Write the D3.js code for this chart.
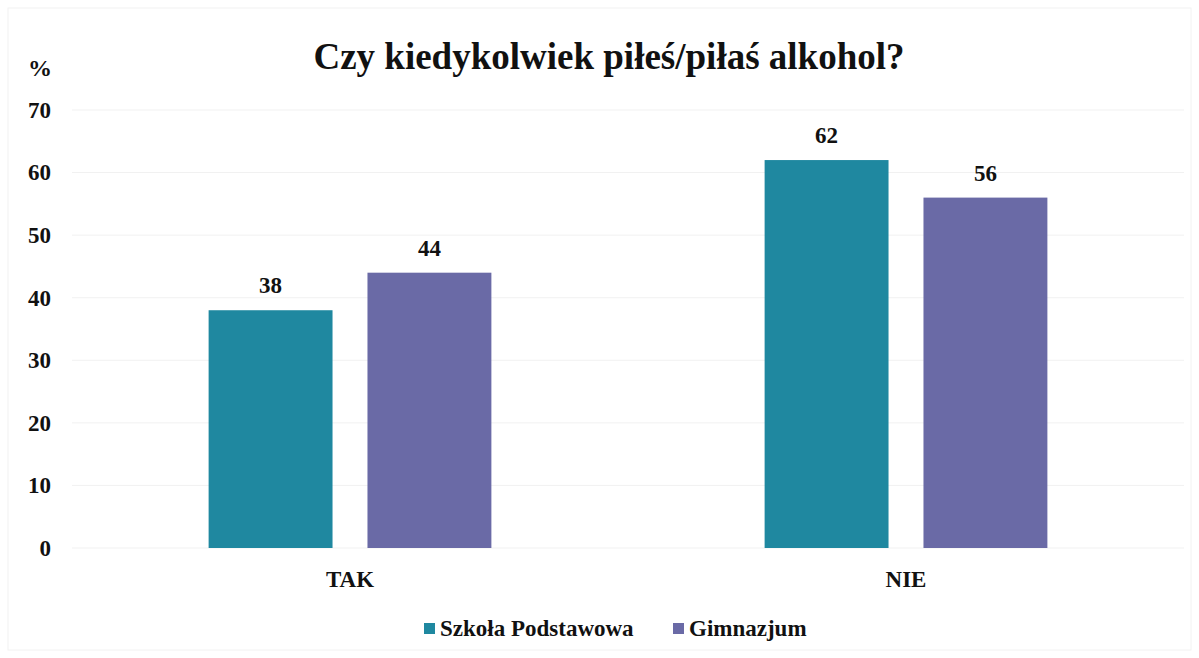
<!DOCTYPE html>
<html>
<head>
<meta charset="utf-8">
<script src="https://cdn.jsdelivr.net/npm/d3@7"></script>
<style>
body { margin: 0; background: #fff; }
svg text { font-family: "Liberation Serif", "Times New Roman", serif; font-weight: bold; fill: #111; }
</style>
</head>
<body>
<svg id="chart"></svg>
<script>
// data
var categories = ["TAK", "NIE"];
var seriesNames = ["Szkoła Podstawowa", "Gimnazjum"];
var szkolaValues = [38, 62];
var gimnazjumValues = [44, 56];
var yTicks = [0, 10, 20, 30, 40, 50, 60, 70];

var colors = ["#1f88a0", "#6a6aa6"];

var width = 1199, height = 658;

var svg = d3.select("#chart")
	.attr("width", width)
	.attr("height", height);

// faint page border from the scan
svg.append("rect")
	.attr("x", 8).attr("y", 8)
	.attr("width", width - 16).attr("height", height - 16)
	.style("fill", "none")
	.style("stroke", "#f2f2f2");

var xScale = d3.scaleBand().domain(categories).range([72, 1184]);
var inner = d3.scaleBand().domain(seriesNames)
	.range([0, xScale.bandwidth()])
	.paddingInner(0.22)
	.paddingOuter(0.86);
var yScale = d3.scaleLinear().domain([0, 70]).range([548, 110]);

// gridlines, very light
svg.append("g")
	.selectAll("line")
	.data(yTicks)
	.enter().append("line")
	.attr("x1", 72).attr("x2", 1184)
	.attr("y1", function(d){return yScale(d)})
	.attr("y2", function(d){return yScale(d)})
	.style("stroke", "#f1f1f1")
	.style("stroke-width", 1);

var yAxis = d3.axisLeft(yScale).tickValues(yTicks).tickSize(0).tickPadding(0);
var yg = svg.append("g").attr("transform", "translate(51,0)").call(yAxis);
yg.select(".domain").remove();
yg.selectAll("text")
	.style("font-size", "23px")
	.style("font-family", "Liberation Serif, serif")
	.style("font-weight", "bold")
	.style("fill", "#111");

svg.append("text")
	.attr("x", 52).attr("y", 76)
	.attr("text-anchor", "end")
	.style("font-size", "24px")
	.text("%");

svg.append("text")
	.attr("x", 609).attr("y", 69)
	.attr("text-anchor", "middle")
	.style("font-size", "37px")
	.text("Czy kiedykolwiek piłeś/piłaś alkohol?");

var table = categories.map(function(c, i){
	return [
		{cat: c, name: seriesNames[0], value: szkolaValues[i]},
		{cat: c, name: seriesNames[1], value: gimnazjumValues[i]}
	];
});

var groups = svg.selectAll(".group")
	.data(table)
	.enter().append("g")
	.attr("class", "group")
	.attr("transform", function(d){return "translate(" + xScale(d[0].cat) + ",0)"});

groups.selectAll("rect")
	.data(function(d){return d})
	.enter().append("rect")
	.attr("x", function(d){return inner(d.name)})
	.attr("y", function(d){return yScale(d.value)})
	.attr("width", inner.bandwidth())
	.attr("height", function(d){return yScale(0) - yScale(d.value)})
	.style("fill", function(d, i){return colors[i]});

groups.selectAll(".val")
	.data(function(d){return d})
	.enter().append("text")
	.attr("class", "val")
	.attr("x", function(d){return inner(d.name) + inner.bandwidth()/2})
	.attr("y", function(d){return yScale(d.value) - 17})
	.attr("text-anchor", "middle")
	.style("font-size", "23px")
	.text(function(d){return d.value});

svg.selectAll(".cat")
	.data(categories)
	.enter().append("text")
	.attr("class", "cat")
	.attr("x", function(d){return xScale(d) + xScale.bandwidth()/2})
	.attr("y", 587)
	.attr("text-anchor", "middle")
	.style("font-size", "23px")
	.text(function(d){return d});

// legend
var legendX = [424, 673];
var legend = svg.selectAll(".legend")
	.data(seriesNames)
	.enter().append("g")
	.attr("class", "legend")
	.attr("transform", function(d, i){return "translate(" + legendX[i] + ",628)"});

legend.append("rect")
	.attr("x", 0).attr("y", -5)
	.attr("width", 11).attr("height", 11)
	.style("fill", function(d, i){return colors[i]});

legend.append("text")
	.attr("x", 16).attr("y", 8)
	.style("font-size", "23px")
	.text(function(d){return d});
</script>
</body>
</html>
